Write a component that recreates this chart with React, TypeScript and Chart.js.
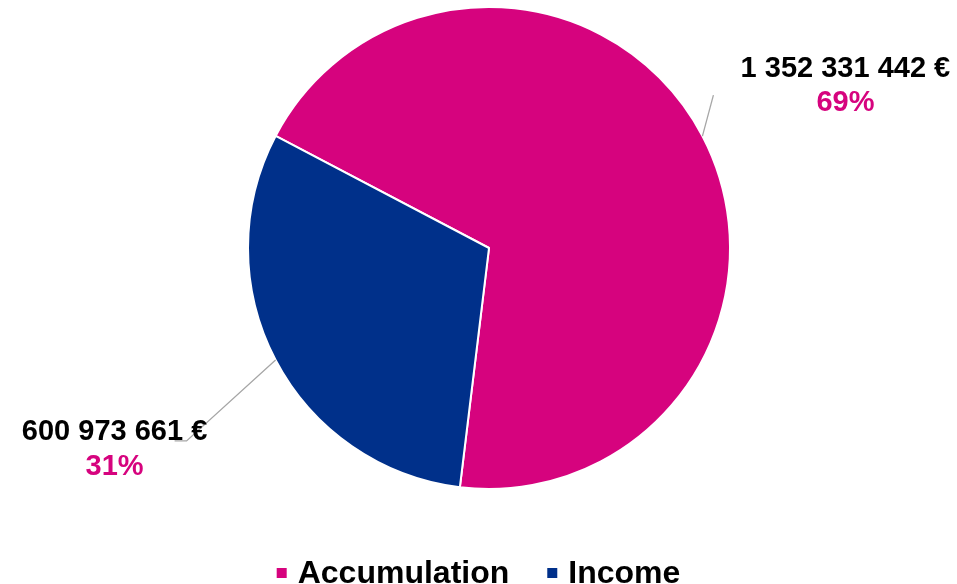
import React, { useEffect, useRef } from "react";
import { Chart, registerables } from "chart.js";

Chart.register(...registerables);

const categories = ["Accumulation", "Income"];
const values = [1352331442, 600973661];
const colors = ["#D6037E", "#00308A"];

const FONT = "'Liberation Sans', Arial, sans-serif";

function fmtEuro(v: number): string {
  return String(v).replace(/\B(?=(\d{3})+(?!\d))/g, " ") + " €";
}

// leader-line / label placement relative to the slice's outer mid point
const labelLayout = [
  { line: [[11, -41]], tx: 143, ty1: -59, ty2: -25 },
  { line: [[-89, 81], [-101, 81]], tx: -161, ty1: 80, ty2: 115 },
];

const labelPlugin = {
  id: "pieLabels",
  afterDraw(chart: any) {
    const ctx = chart.ctx;
    const meta = chart.getDatasetMeta(0);
    const total = values.reduce((a, b) => a + b, 0);
    meta.data.forEach((arc: any, i: number) => {
      const p = arc.getProps(["x", "y", "startAngle", "endAngle", "outerRadius"], true);
      const mid = (p.startAngle + p.endAngle) / 2;
      const px = p.x + Math.cos(mid) * p.outerRadius;
      const py = p.y + Math.sin(mid) * p.outerRadius;
      const L = labelLayout[i];
      ctx.save();
      ctx.strokeStyle = "#A6A6A6";
      ctx.lineWidth = 1.3;
      ctx.beginPath();
      ctx.moveTo(px, py);
      L.line.forEach((pt) => ctx.lineTo(px + pt[0], py + pt[1]));
      ctx.stroke();
      ctx.textAlign = "center";
      ctx.textBaseline = "alphabetic";
      ctx.font = `bold 29px ${FONT}`;
      ctx.fillStyle = "#000000";
      ctx.fillText(fmtEuro(values[i]), px + L.tx, py + L.ty1);
      ctx.fillStyle = colors[0];
      ctx.fillText(Math.round((values[i] / total) * 100) + "%", px + L.tx, py + L.ty2);
      ctx.restore();
    });

    // legend
    ctx.save();
    ctx.font = `bold 32px ${FONT}`;
    ctx.textBaseline = "alphabetic";
    ctx.textAlign = "left";
    const box = 10;
    const gap = 11;
    const itemGap = 38;
    const widths = categories.map((c) => ctx.measureText(c).width);
    const totalW = widths.reduce((a, w) => a + box + gap + w, 0) + itemGap * (categories.length - 1);
    let x = chart.width / 2 - totalW / 2;
    const baseY = 583;
    categories.forEach((c, i) => {
      ctx.fillStyle = colors[i];
      ctx.fillRect(x, 568, box, box);
      x += box + gap;
      ctx.fillStyle = "#000000";
      ctx.fillText(c, x, baseY);
      x += widths[i] + itemGap;
    });
    ctx.restore();
  },
};

export default function App() {
  const ref = useRef<HTMLCanvasElement | null>(null);
  useEffect(() => {
    if (!ref.current) return;
    const chart = new Chart(ref.current, {
      type: "pie",
      data: {
        labels: categories,
        datasets: [
          {
            data: values,
            backgroundColor: colors,
            borderColor: "#FFFFFF",
            borderWidth: 2,
          },
        ],
      },
      options: {
        animation: false,
        responsive: true,
        maintainAspectRatio: false,
        rotation: -62.3,
        layout: { padding: { left: 247, right: 226, top: 6, bottom: 94 } },
        plugins: {
          legend: { display: false },
          tooltip: { enabled: false },
        },
      },
      plugins: [labelPlugin],
    });
    return () => chart.destroy();
  }, []);
  return (
    <div style={{ position: "absolute", left: 0, top: 0, width: 957, height: 584, background: "#fff" }}>
      <canvas ref={ref} />
    </div>
  );
}
